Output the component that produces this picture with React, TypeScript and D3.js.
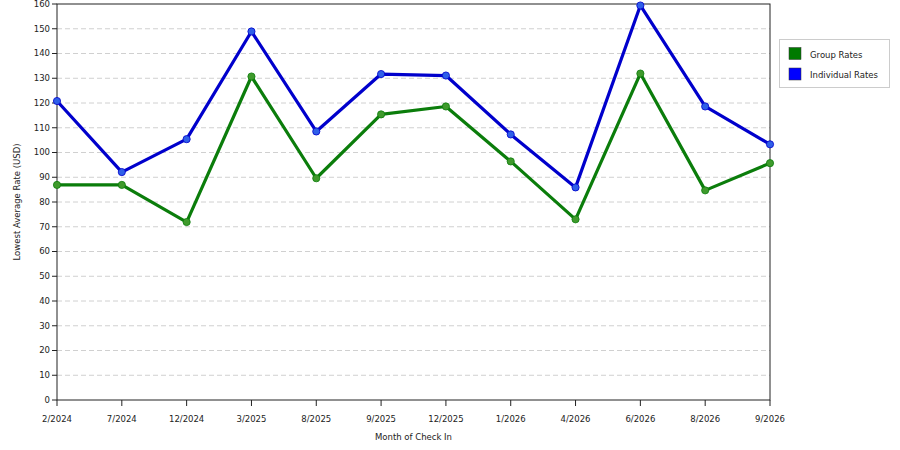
import React from 'react';
import * as d3 from 'd3';

const months = ['2/2024', '7/2024', '12/2024', '3/2025', '8/2025', '9/2025', '12/2025', '1/2026', '4/2026', '6/2026', '8/2026', '9/2026'];
const groupRates = [86.9, 86.9, 71.9, 130.7, 89.6, 115.4, 118.6, 96.4, 73.0, 131.9, 84.7, 95.7];
const individualRates = [120.8, 92.1, 105.4, 148.9, 108.5, 131.7, 131.1, 107.3, 85.9, 159.4, 118.6, 103.3];
const yTicks = [0, 10, 20, 30, 40, 50, 60, 70, 80, 90, 100, 110, 120, 130, 140, 150, 160];

const series = [
  { name: 'Group Rates', values: groupRates, line: '#0b7d0b', dot: '#3f9a2c', swatch: '#007a00' },
  { name: 'Individual Rates', values: individualRates, line: '#0000cc', dot: '#2f5fe8', swatch: '#0000ff' },
];

const WIDTH = 900;
const HEIGHT = 450;
const LEFT = 57;
const RIGHT = 770;
const TOP = 4;
const BOTTOM = 400;
const FONT = '"DejaVu Sans", Verdana, sans-serif';

export default function App() {
  const x = d3.scalePoint<string>().domain(months).range([LEFT, RIGHT]).padding(0);
  const y = d3.scaleLinear().domain([0, 160]).range([BOTTOM, TOP]);

  const line = d3.line<number>()
    .x((_, i) => x(months[i]) ?? 0)
    .y(d => y(d));

  return (
    <svg
      width={WIDTH}
      height={HEIGHT}
      style={{ position: 'absolute', left: 0, top: 0, background: '#fff' }}
      fontFamily={FONT}
    >
      {/* grid */}
      {yTicks.filter(t => t > 0 && t < 160).map(t => (
        <line key={t} x1={LEFT} x2={RIGHT} y1={y(t)} y2={y(t)} stroke="#d0d0d0" strokeDasharray="5,3" />
      ))}

      {/* frame */}
      <rect x={LEFT} y={TOP} width={RIGHT - LEFT} height={BOTTOM - TOP} fill="none" stroke="#222" strokeWidth={1} />

      {/* y axis */}
      {yTicks.map(t => (
        <g key={t}>
          <line x1={LEFT - 5} x2={LEFT} y1={y(t)} y2={y(t)} stroke="#222" />
          <text x={LEFT - 7} y={y(t)} dy="0.35em" textAnchor="end" fontSize={8.5} fill="#222">{t}</text>
        </g>
      ))}
      <text
        transform={`translate(20,${(TOP + BOTTOM) / 2}) rotate(-90)`}
        textAnchor="middle"
        fontSize={8.5}
        fill="#222"
      >
        Lowest Average Rate (USD)
      </text>

      {/* x axis */}
      {months.map(m => (
        <g key={m}>
          <line x1={x(m)} x2={x(m)} y1={BOTTOM} y2={BOTTOM + 6} stroke="#222" />
          <text x={x(m)} y={BOTTOM + 22} textAnchor="middle" fontSize={8.5} fill="#222">{m}</text>
        </g>
      ))}
      <text x={(LEFT + RIGHT) / 2} y={440} textAnchor="middle" fontSize={8.5} fill="#222">Month of Check In</text>

      {/* series */}
      {series.map(s => (
        <g key={s.name}>
          <path d={line(s.values) ?? ''} fill="none" stroke={s.line} strokeWidth={3.2} strokeLinejoin="round" />
          {s.values.map((v, i) => (
            <circle key={i} cx={x(months[i])} cy={y(v)} r={3.6} fill={s.dot} stroke={s.line} strokeWidth={0.8} />
          ))}
        </g>
      ))}

      {/* legend */}
      <rect x={779.5} y={39.5} width={110} height={48} fill="#fff" stroke="#ccc" />
      {series.map((s, i) => (
        <g key={s.name} transform={`translate(789,${47.5 + i * 20.5})`}>
          <rect x={0} y={0} width={12} height={12} fill={s.swatch} stroke="#333" strokeWidth={0.5} />
          <text x={21} y={7.5} dy="0.35em" fontSize={8.5} fill="#222">{s.name}</text>
        </g>
      ))}
    </svg>
  );
}
